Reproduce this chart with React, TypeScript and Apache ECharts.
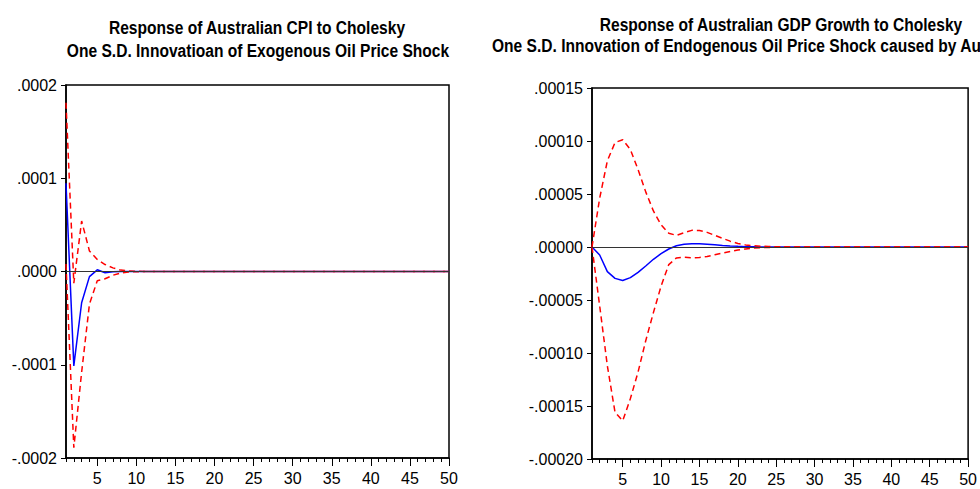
import React, { useEffect, useRef } from "react";
import * as echarts from "echarts";

const periods: string[] = Array.from({ length: 50 }, (_, i) => String(i + 1));

// Left panel: Australian CPI response to exogenous oil price shock
const cpiResponse = [
  0.0000946, -0.0001012, -0.0000335, -0.0000055, 0.0000018, -0.0000013, -0.0000004, 0.0000001, 0, 0,
  0, 0, 0, 0, 0, 0, 0, 0, 0, 0,
  0, 0, 0, 0, 0, 0, 0, 0, 0, 0,
  0, 0, 0, 0, 0, 0, 0, 0, 0, 0,
  0, 0, 0, 0, 0, 0, 0, 0, 0, 0,
];
const cpiUpper = [
  0.000181, -0.0000125, 0.0000541, 0.000022, 0.0000129, 0.0000075, 0.0000039, 0.0000015, 0.0000006, 0.0000002,
  0.0000001, 0, 0, 0, 0, 0, 0, 0, 0, 0,
  0, 0, 0, 0, 0, 0, 0, 0, 0, 0,
  0, 0, 0, 0, 0, 0, 0, 0, 0, 0,
  0, 0, 0, 0, 0, 0, 0, 0, 0, 0,
];
const cpiLower = [
  0.000008, -0.000189, -0.000108, -0.000035, -0.00001, -0.0000078, -0.000004, -0.0000016, -0.0000006, -0.0000002,
  -0.0000001, 0, 0, 0, 0, 0, 0, 0, 0, 0,
  0, 0, 0, 0, 0, 0, 0, 0, 0, 0,
  0, 0, 0, 0, 0, 0, 0, 0, 0, 0,
  0, 0, 0, 0, 0, 0, 0, 0, 0, 0,
];

// Right panel: Australian GDP growth response to endogenous oil price shock
const gdpResponse = [
  0, -0.0000075, -0.0000232, -0.0000296, -0.0000316, -0.0000289, -0.000024, -0.0000179, -0.0000116, -0.0000063,
  -0.0000019, 0.0000012, 0.0000025, 0.000003, 0.000003, 0.0000027, 0.0000021, 0.0000015, 0.000001, 0.0000006,
  0.0000003, 0.0000002, 0.0000001, 0.0000001, 0, 0, 0, 0, 0, 0,
  0, 0, 0, 0, 0, 0, 0, 0, 0, 0,
  0, 0, 0, 0, 0, 0, 0, 0, 0, 0,
];
const gdpUpper = [
  0, 0.000046, 0.0000813, 0.0000985, 0.0001012, 0.000092, 0.000073, 0.000052, 0.000034, 0.000021,
  0.000013, 0.000011, 0.0000135, 0.0000157, 0.0000156, 0.0000138, 0.000011, 0.0000082, 0.0000055, 0.0000033,
  0.000002, 0.0000012, 0.0000008, 0.0000005, 0.0000003, 0.0000002, 0.0000001, 0.0000001, 0, 0,
  0, 0, 0, 0, 0, 0, 0, 0, 0, 0,
  0, 0, 0, 0, 0, 0, 0, 0, 0, 0,
];
const gdpLower = [
  0, -0.0000556, -0.000112, -0.000156, -0.000164, -0.000143, -0.000118, -0.0000884, -0.0000619, -0.0000369,
  -0.0000166, -0.0000103, -0.0000097, -0.0000103, -0.0000098, -0.000009, -0.0000073, -0.0000057, -0.0000042, -0.0000028,
  -0.0000018, -0.0000011, -0.0000007, -0.0000004, -0.0000002, -0.0000001, -0.0000001, 0, 0, 0,
  0, 0, 0, 0, 0, 0, 0, 0, 0, 0,
  0, 0, 0, 0, 0, 0, 0, 0, 0, 0,
];

const leftTitle = [
  "Response of Australian CPI to Cholesky",
  "One S.D. Innovatioan of Exogenous Oil Price Shock",
];
const rightTitle = [
  "Response of Australian GDP Growth to Cholesky",
  "One S.D. Innovation of Endogenous Oil Price Shock caused by Au",
];

const FONT = '"Liberation Sans", Arial, sans-serif';

function fmt(digits: number) {
  return (v: number) => {
    const s = Math.abs(v).toFixed(digits).replace(/^0/, "");
    return (v < -1e-12 ? "-" : "") + s;
  };
}

function xAxes(gridIndex: number) {
  return [
    {
      gridIndex,
      type: "category",
      data: periods,
      boundaryGap: false,
      axisLine: { show: true, onZero: false, lineStyle: { color: "#000", width: 1.5 } },
      axisTick: { show: true, interval: 0, length: 4, lineStyle: { color: "#000", width: 1 } },
      axisLabel: {
        interval: (i: number) => (i + 1) % 5 === 0,
        fontSize: 16,
        fontFamily: FONT,
        color: "#000",
        margin: 12,
      },
      splitLine: { show: false },
    },
    {
      gridIndex,
      type: "category",
      data: periods,
      boundaryGap: false,
      position: "bottom",
      axisLine: { show: false, onZero: false },
      axisTick: {
        show: true,
        interval: (i: number) => (i + 1) % 5 === 0,
        length: 8,
        lineStyle: { color: "#000", width: 1 },
      },
      axisLabel: { show: false },
      splitLine: { show: false },
    },
  ];
}

function yAxis(gridIndex: number, min: number, max: number, interval: number, digits: number) {
  return {
    gridIndex,
    type: "value",
    min,
    max,
    interval,
    axisLine: { show: true, onZero: false, lineStyle: { color: "#000", width: 1.5 } },
    axisTick: { show: true, length: 5, lineStyle: { color: "#000", width: 1 } },
    axisLabel: { formatter: fmt(digits), fontSize: 16, fontFamily: FONT, color: "#000", margin: 9 },
    splitLine: { show: false },
  };
}

function seriesFor(xIdx: number, yIdx: number, resp: number[], up: number[], lo: number[]) {
  const red = { color: "#ff0000", width: 1.5, type: [6, 4] as any };
  return [
    {
      type: "line",
      xAxisIndex: xIdx,
      yAxisIndex: yIdx,
      data: [],
      silent: true,
      markLine: {
        silent: true,
        symbol: "none",
        label: { show: false },
        lineStyle: { color: "#333", width: 1, type: "solid" },
        data: [{ yAxis: 0 }],
      },
    },
    {
      type: "line",
      xAxisIndex: xIdx,
      yAxisIndex: yIdx,
      data: resp,
      showSymbol: false,
      lineStyle: { color: "#0000ff", width: 1.5 },
    },
    {
      type: "line",
      xAxisIndex: xIdx,
      yAxisIndex: yIdx,
      data: up,
      showSymbol: false,
      lineStyle: red,
    },
    {
      type: "line",
      xAxisIndex: xIdx,
      yAxisIndex: yIdx,
      data: lo,
      showSymbol: false,
      lineStyle: red,
    },
  ];
}

function titleText(text: string, x: number, y: number, align: string) {
  return {
    type: "text",
    x,
    y,
    scaleX: 0.82,
    style: {
      text,
      fill: "#000",
      font: `bold 19px ${FONT}`,
      textAlign: align,
      align,
      textVerticalAlign: "bottom",
      verticalAlign: "bottom",
    },
  };
}

export default function App() {
  const ref = useRef<HTMLDivElement>(null);
  useEffect(() => {
    document.body.style.margin = "0";
    if (!ref.current) return;
    const chart = echarts.init(ref.current, undefined, { renderer: "svg" });
    chart.setOption({
      animation: false,
      backgroundColor: "#fff",
      grid: [
        { left: 66, top: 85, width: 383, height: 373, show: true, borderColor: "#000", borderWidth: 1.5 },
        { left: 592, top: 88, width: 380, height: 371, show: true, borderColor: "#000", borderWidth: 1.5 },
      ],
      xAxis: [...xAxes(0), ...xAxes(1)],
      yAxis: [yAxis(0, -0.0002, 0.0002, 0.0001, 4), yAxis(1, -0.0002, 0.00015, 0.00005, 5)],
      series: [
        ...seriesFor(0, 0, cpiResponse, cpiUpper, cpiLower),
        ...seriesFor(2, 1, gdpResponse, gdpUpper, gdpLower),
      ],
      graphic: [
        titleText(leftTitle[0], 257, 37, "center"),
        titleText(leftTitle[1], 258, 60, "center"),
        titleText(rightTitle[0], 781, 34, "center"),
        titleText(rightTitle[1], 492, 55, "left"),
      ],
    });
    return () => chart.dispose();
  }, []);
  return <div ref={ref} style={{ width: 980, height: 489 }} />;
}
